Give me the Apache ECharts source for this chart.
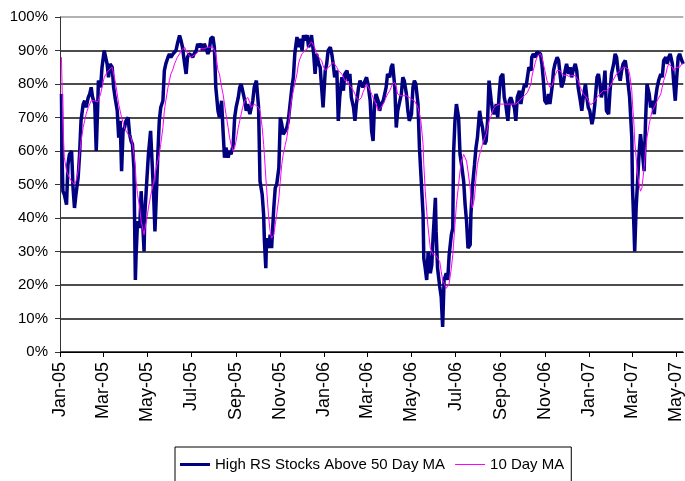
<!DOCTYPE html>
<html><head><meta charset="utf-8">
<script src="https://cdn.jsdelivr.net/npm/echarts@6/dist/echarts.min.js"></script>
<style>html,body{margin:0;padding:0;background:#fff}#c{width:685px;height:481px}</style>
</head><body><div id="c"></div>
<script>
const dates = [
'2005-01-03','2005-01-04','2005-01-05','2005-01-07','2005-01-10','2005-01-12','2005-01-14','2005-01-17','2005-01-19','2005-01-21',
'2005-01-23','2005-01-26','2005-01-28','2005-01-30','2005-02-02','2005-02-04','2005-02-06','2005-02-09','2005-02-11','2005-02-13',
'2005-02-15','2005-02-18','2005-02-20','2005-02-22','2005-02-23','2005-02-26','2005-02-28','2005-03-03','2005-03-04','2005-03-07',
'2005-03-09','2005-03-11','2005-03-14','2005-03-16','2005-03-18','2005-03-21','2005-03-23','2005-03-25','2005-03-27','2005-03-29',
'2005-03-31','2005-04-02','2005-04-05','2005-04-07','2005-04-09','2005-04-11','2005-04-13','2005-04-15','2005-04-16','2005-04-18',
'2005-04-21','2005-04-23','2005-04-25','2005-04-27','2005-04-28','2005-05-01','2005-05-03','2005-05-06','2005-05-08','2005-05-10',
'2005-05-12','2005-05-14','2005-05-16','2005-05-18','2005-05-20','2005-05-23','2005-05-25','2005-05-27','2005-05-30','2005-06-01',
'2005-06-03','2005-06-06','2005-06-08','2005-06-10','2005-06-12','2005-06-15','2005-06-17','2005-06-19','2005-06-22','2005-06-24',
'2005-06-26','2005-06-28','2005-07-01','2005-07-03','2005-07-05','2005-07-08','2005-07-10','2005-07-12','2005-07-15','2005-07-17',
'2005-07-19','2005-07-21','2005-07-24','2005-07-26','2005-07-28','2005-07-31','2005-08-02','2005-08-04',
'2005-08-07','2005-08-09','2005-08-12','2005-08-14','2005-08-16','2005-08-18','2005-08-21','2005-08-23','2005-08-25','2005-08-28',
'2005-08-30','2005-09-01','2005-09-04','2005-09-06','2005-09-08','2005-09-10','2005-09-13','2005-09-15','2005-09-17','2005-09-20',
'2005-09-22','2005-09-24','2005-09-26','2005-09-29','2005-10-01','2005-10-02','2005-10-04','2005-10-07','2005-10-09','2005-10-10',
'2005-10-12','2005-10-13','2005-10-16','2005-10-18','2005-10-20','2005-10-23','2005-10-25','2005-10-27','2005-10-30','2005-11-01',
'2005-11-03','2005-11-05','2005-11-08','2005-11-10','2005-11-12','2005-11-15','2005-11-17','2005-11-19','2005-11-21','2005-11-24',
'2005-11-26','2005-11-28','2005-12-01','2005-12-03','2005-12-05','2005-12-08','2005-12-10','2005-12-12','2005-12-14','2005-12-17',
'2005-12-19','2005-12-21','2005-12-24','2005-12-26','2005-12-28','2005-12-30','2006-01-02','2006-01-04','2006-01-06','2006-01-09',
'2006-01-11','2006-01-13','2006-01-15','2006-01-18','2006-01-20','2006-01-22','2006-01-25','2006-01-27','2006-01-29','2006-02-01',
'2006-02-03','2006-02-05','2006-02-07','2006-02-10','2006-02-12','2006-02-14','2006-02-17','2006-02-19','2006-02-21','2006-02-23',
'2006-02-26','2006-02-28','2006-03-02','2006-03-05','2006-03-07','2006-03-09',
'2006-03-11','2006-03-13','2006-03-16','2006-03-18','2006-03-20','2006-03-23','2006-03-25','2006-03-27','2006-03-29','2006-04-01',
'2006-04-03','2006-04-05','2006-04-08','2006-04-10','2006-04-12','2006-04-15','2006-04-17','2006-04-19','2006-04-21','2006-04-24',
'2006-04-26','2006-04-28','2006-05-01','2006-05-03','2006-05-05','2006-05-07','2006-05-10','2006-05-12','2006-05-14','2006-05-17',
'2006-05-18','2006-05-20','2006-05-22','2006-05-24','2006-05-27','2006-05-29','2006-05-31','2006-06-03','2006-06-04','2006-06-06',
'2006-06-09','2006-06-11','2006-06-13','2006-06-15','2006-06-18','2006-06-20','2006-06-22','2006-06-25','2006-06-27','2006-06-28',
'2006-06-30','2006-07-02','2006-07-05','2006-07-07','2006-07-09','2006-07-12','2006-07-14','2006-07-16','2006-07-18','2006-07-21',
'2006-07-22','2006-07-24','2006-07-27','2006-07-29','2006-07-31','2006-08-03','2006-08-05','2006-08-07','2006-08-10','2006-08-12',
'2006-08-14','2006-08-16','2006-08-19','2006-08-21','2006-08-23','2006-08-26','2006-08-28','2006-08-30','2006-09-01','2006-09-04',
'2006-09-06','2006-09-08','2006-09-11','2006-09-13','2006-09-15','2006-09-18','2006-09-20','2006-09-22','2006-09-24','2006-09-27',
'2006-09-29','2006-10-01','2006-10-04','2006-10-06','2006-10-08','2006-10-10','2006-10-13',
'2006-10-14','2006-10-16','2006-10-19','2006-10-21','2006-10-23','2006-10-26','2006-10-28','2006-10-30','2006-11-01','2006-11-04',
'2006-11-06','2006-11-08','2006-11-11','2006-11-13','2006-11-15','2006-11-18','2006-11-20','2006-11-22','2006-11-24','2006-11-27',
'2006-11-29','2006-12-01','2006-12-04','2006-12-06','2006-12-08','2006-12-10','2006-12-13','2006-12-15','2006-12-17','2006-12-20',
'2006-12-22','2006-12-24','2006-12-27','2006-12-29','2006-12-31','2007-01-02','2007-01-05','2007-01-07','2007-01-09','2007-01-12',
'2007-01-14','2007-01-16','2007-01-18','2007-01-21','2007-01-23','2007-01-25','2007-01-28','2007-01-30','2007-02-01','2007-02-04',
'2007-02-06','2007-02-08','2007-02-10','2007-02-13','2007-02-15','2007-02-17','2007-02-20','2007-02-22','2007-02-24','2007-02-26',
'2007-03-01','2007-03-02','2007-03-04','2007-03-05','2007-03-07','2007-03-09','2007-03-11','2007-03-13','2007-03-15','2007-03-18',
'2007-03-20','2007-03-22','2007-03-25','2007-03-27','2007-03-29','2007-04-01','2007-04-03','2007-04-05','2007-04-07','2007-04-10',
'2007-04-12','2007-04-14','2007-04-17','2007-04-19','2007-04-21','2007-04-23','2007-04-26','2007-04-28','2007-04-30','2007-05-02',
'2007-05-04','2007-05-06','2007-05-09','2007-05-11'
];
const highRS = [
77,57,48,47,44,56,59,60,49,43,
47,52,59,69,74,75,73,76,77,79,
76,74,60,73,81,79,85,90,90.5,86,
82,86,85,79,76,72,64,69,54,66,
67,69,70,65,63,62,55,21.5,29,39,
37,48,39,30,41,52,59,66,57,48,
36,47,59,69,73,75,84,86,88,89,
88,89,89.5,90,92,94.5,93,91,86,83,
88,89,88.6,88,89,90,92,91,92,90,
92,91,89,90,93.6,94,91,79,
72,70,75,66,58,61,58,60,59,62,
70,73,76,79,80,78,75,72,74,71,
73,75,79,81,81,73,51,47,41,33.5,
25,34,31,35,31,43,49,50,55,70,
68,65,66,67,69,75,79,82,89,94,
91,93.5,90,94.6,93,94.6,91,92,94.6,89,
83,89,86,85,79,73,84,86,90,91,
89,86,82,84,69,76,82,78,83,84,
81,83,76,73,69,74,79,81,80,79,
81,82,80,75,66,63,
74,77,75,72,74,75,75,79,83,82,
85,86,79,67,72,75,77,82,81,77,
72,69,71,79,81,80,74,61,53,41,
28,25,21.5,30,23.5,26,35,46,36,25,
19.5,16.5,7.5,21.5,23.5,21.5,29,35,37,59,
69,74,70,59,56,51,44,39,31,32,
41,49,56,61,64,72,69,67,62,63,
69,81,75,72,71,74,70,77,82,83,
76,74,69,75,76,74,73,69,76,78,
74,77,80,79,82,85,84,
88,89,88,89.5,90,89,86,81,75,74,
77,74,79,84,86,88,87,83,79,81,
84,86,83,85,82,84,86,84,79,75,
72,76,80,76,73,72,68,70,74,82,
83,80,76,79,84,72,71,78,83,86,
89,88,84,81,84,86,87,84,80,76,
64,49,37,30,43,51,59,65,61,54,
69,80,77,73,75,71,76,79,81,83,
82,87,88,86,88,89,86,80,75,82,
88,89,87,86
];
const ma10 = [
88,78,68,58,54,53,52,51,51,50,
51,54,59,63,67,69,71,73,74,75,
75,75,75,74.6,75,77,79,82,82.5,83.5,
84,84.5,85,83,81,77,74,72,70,68.5,
67,66,65,64.5,64,62,59,55,51,47,
43,39,37,35,36.5,40,43,46.5,48.5,50.5,
53,55,57,59,62,67,72,75,79,81,
83,84.5,86,87,88,89,90,90.5,91,90,
89,88.5,88,88.3,88.6,89,89.5,90,90.5,90.5,
90.5,90.7,91,91,91,91,91,89,
84,83,79,77,74,71,67,64,62,60,
61,63,67,69,71,73,75,75.5,76,74.5,
73,73.5,74,73.5,73,73,72,67,62,59,
52,49,40,36,34,35,38,41,46,51,
56,59,62,64,67,73,76,78,80,83,
86,87.5,89,89.5,90,90.5,91.5,92,92.6,91.5,
90.5,89,88,87.5,87,85.5,84,84.5,85,85.5,
86,86.5,87,85,84,83.5,83,82,81,81,
80,79.5,79,78,77,76,75,75.5,76,77.5,
79,80,80,78,77,76,
75,74,72,72.5,73,74,75,76,77,78,
79,80,80.5,79,77,76.5,76,76.5,77,76.5,
76,76,75.5,75,75,74.5,73,71,69,62,
56,48,42,37,31,30,29,29,29,28,
27,24,21.5,20.5,19,19.5,20.5,25,29,32,
38,44,50,54,57,59,58,57,54,49,
46,43,46,52,56,59,60.5,62,64,65,
67,69,70.5,72,73,73.5,74,74,74,74,
74,74,74,74,74,74,74,74,74.5,75,
75.5,76,76.5,77,77.5,78,80,
82,84,86.5,88,88.5,89,88,86,84,81,
80,79,79.5,81,82.5,84,84,84,83.5,82.6,
82.6,82.6,82.3,82,82.5,83,82.5,82,81,79,
78,77,76.5,76,75,74,74,74,75,76,
76.5,77,77.5,78,78,78,78.5,79,80,81.5,
82,83,83.5,84,84.5,85,85,85,84.5,83,
78,74,68,63,58,53,50,48,49,55,
60,64,68,70,72,73,74,75,75.5,77,
79,81,83,85,86,86.5,85,84,84,85,
84.5,85,86,86
];
const xTickDates = ['2005-01-01','2005-03-01','2005-05-01','2005-07-01','2005-09-01','2005-11-01','2006-01-01','2006-03-01','2006-05-01','2006-07-01','2006-09-01','2006-11-01','2007-01-01','2007-03-01','2007-05-01'];
const xStart = '2005-01-01';
const xEnd = '2007-05-11';
const monthNames = ['Jan','Feb','Mar','Apr','May','Jun','Jul','Aug','Sep','Oct','Nov','Dec'];
const seriesNames = ['High RS Stocks Above 50 Day MA', '10 Day MA'];

const ts = s => echarts.time.parse(s).getTime();
const chart = echarts.init(document.getElementById('c'), null, {renderer: 'canvas'});
const xTicks = xTickDates.map(ts);
const font = "'Liberation Sans', Arial, sans-serif";
chart.setOption({
  animation: false,
  backgroundColor: '#fff',
  grid: {left: 60, right: 0, top: 17, bottom: 129, containLabel: false},
  legend: {
    left: 175, top: 447,
    padding: [10, 7, 10, 5],
    itemGap: 10,
    itemWidth: 30, itemHeight: 14,
    borderColor: '#000', borderWidth: 1,
    textStyle: {fontFamily: font, fontSize: 15, color: '#000'},
    data: [
      {name: seriesNames[0], icon: 'path://M0,0M30,14M0,5.5H30V8.5H0Z', itemStyle: {color: '#000080'}},
      {name: seriesNames[1], icon: 'path://M0,0M30,14M0,6.5H30V7.5H0Z', itemStyle: {color: '#ff00ff'}}
    ]
  },
  xAxis: {
    type: 'value',
    min: ts(xStart), max: ts(xEnd),
    axisLine: {show: true, lineStyle: {color: '#000', width: 1}},
    axisTick: {show: true, customValues: xTicks, length: 5, lineStyle: {color: '#000'}},
    axisLabel: {
      customValues: xTicks, rotate: 90, margin: 10,
      fontFamily: font, fontSize: 18, color: '#000',
      formatter: v => { const d = new Date(v); return monthNames[d.getMonth()] + '-' + String(d.getFullYear()).slice(2); }
    },
    splitLine: {show: false}
  },
  yAxis: {
    type: 'value', min: 0, max: 100, interval: 10,
    axisLine: {show: true, lineStyle: {color: '#333', width: 1}},
    axisTick: {show: true, length: 5, lineStyle: {color: '#333'}},
    axisLabel: {formatter: '{value}%', fontFamily: font, fontSize: 15, color: '#000', margin: 12},
    splitLine: {show: true, lineStyle: {color: ['#111','#111','#111','#111','#111','#111','#111','#111','#111','#111','#999'], width: 1.5}}
  },
  series: [
    {
      name: seriesNames[0], type: 'line', symbol: 'none', z: 2,
      lineStyle: {color: '#000080', width: 3.5}, itemStyle: {color: '#000080'},
      data: dates.map((d, i) => [ts(d), highRS[i]])
    },
    {
      name: seriesNames[1], type: 'line', symbol: 'none', z: 3,
      lineStyle: {color: '#ff00ff', width: 1}, itemStyle: {color: '#ff00ff'},
      data: dates.map((d, i) => [ts(d), ma10[i]])
    }
  ]
});
</script>
</body></html>
